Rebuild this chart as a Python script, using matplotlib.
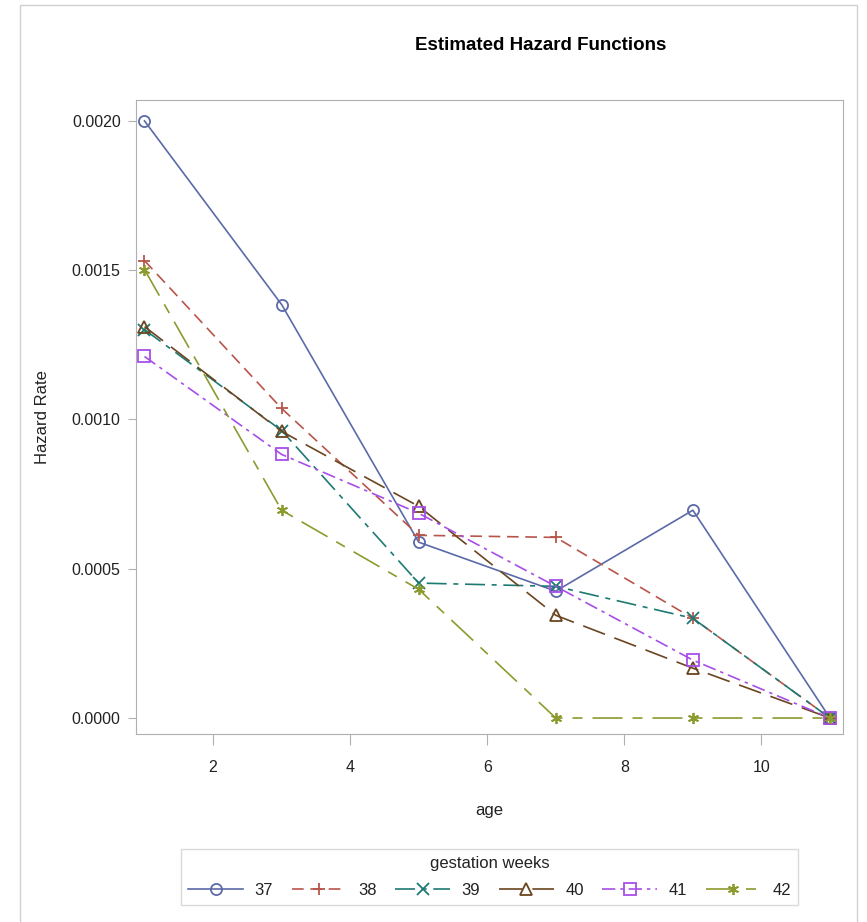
import matplotlib
matplotlib.use("Agg")
from matplotlib import pyplot as plt
from matplotlib.patches import Rectangle

age = [1, 3, 5, 7, 9, 11]
weeks = ["37", "38", "39", "40", "41", "42"]
hazard_37 = [0.002000, 0.001385, 0.000589, 0.000425, 0.000696, 0.0]
hazard_38 = [0.001532, 0.001037, 0.000612, 0.000605, 0.000334, 0.0]
hazard_39 = [0.001301, 0.000963, 0.000452, 0.000441, 0.000334, 0.0]
hazard_40 = [0.001311, 0.000960, 0.000709, 0.000344, 0.000167, 0.0]
hazard_41 = [0.001211, 0.000883, 0.000686, 0.000441, 0.000194, 0.0]
hazard_42 = [0.001502, 0.000696, 0.000431, 0.0, 0.0, 0.0]
series = [hazard_37, hazard_38, hazard_39, hazard_40, hazard_41, hazard_42]

colors = ["#5b6aa8", "#b8554b", "#1d7a72", "#6a4520", "#a84ee8", "#8d9a2e"]
styles = ["-", (0, (7, 4)), (0, (12, 4, 3, 4)), (0, (14, 6)), (0, (8, 3, 2, 3)), (0, (18, 6, 6, 6))]
markers = ["o", "+", "x", "^", "s", (6, 2, 0)]

font = ["Liberation Sans", "DejaVu Sans"]
plt.rcParams["font.family"] = font
W, H = 867, 922
fig = plt.figure(figsize=(W / 100, H / 100), dpi=100)
fig.patches.append(Rectangle((20 / W, -0.01), 837 / W, 1 - 5 / H + 0.01, transform=fig.transFigure,
                             fill=False, edgecolor="#d0d0d0", lw=1))

ax = fig.add_axes([136 / W, 1 - 734 / H, 707 / W, 634 / H])
for vals, c, ls, m in zip(series, colors, styles, markers):
    ax.plot(age, vals, color=c, linestyle=ls, lw=1.2, marker=m, markersize=8,
            markerfacecolor="none", markeredgecolor=c, markeredgewidth=1.3)

ax.set_xlim(0.876, 11.19)
ax.set_ylim(-0.0000535, 0.00207)
ax.set_xticks([2, 4, 6, 8, 10])
ax.set_yticks([0, 0.0005, 0.0010, 0.0015, 0.0020])
ax.set_yticklabels(["0.0000", "0.0005", "0.0010", "0.0015", "0.0020"])
ax.tick_params(direction="out", color="#b0b0b0", labelcolor="#222222", labelsize=11.5)
ax.tick_params(axis="x", length=8, pad=11)
ax.tick_params(axis="y", length=6, pad=5)
for s in ax.spines.values():
    s.set_color("#b0b0b0")

ax.set_xlabel("age", fontsize=12, color="#222222")
ax.xaxis.set_label_coords(0.5, -(803 - 734) / 634)
ax.set_ylabel("Hazard Rate", fontsize=12, color="#222222")
ax.yaxis.set_label_coords(-86 / 707, 0.5)
fig.text(541 / W, 1 - 45 / H, "Estimated Hazard Functions", fontsize=13.5,
         fontweight="bold", ha="center", va="center")

leg = ax.legend(weeks, loc="upper center", bbox_to_anchor=(489.5 / W, 1 - 849 / H),
                bbox_transform=fig.transFigure, borderaxespad=0, ncol=6,
                title="gestation weeks", prop={"size": 12}, handlelength=3.3,
                handletextpad=0.7, columnspacing=1.1, fancybox=False, edgecolor="#d0d0d0",
                borderpad=0.4, labelspacing=0.75)
leg.get_title().set_fontsize(12)
leg.get_title().set_color("#222222")
for t in leg.get_texts():
    t.set_color("#222222")
leg.get_frame().set_linewidth(1)

fig.savefig("out.png", dpi=100)
